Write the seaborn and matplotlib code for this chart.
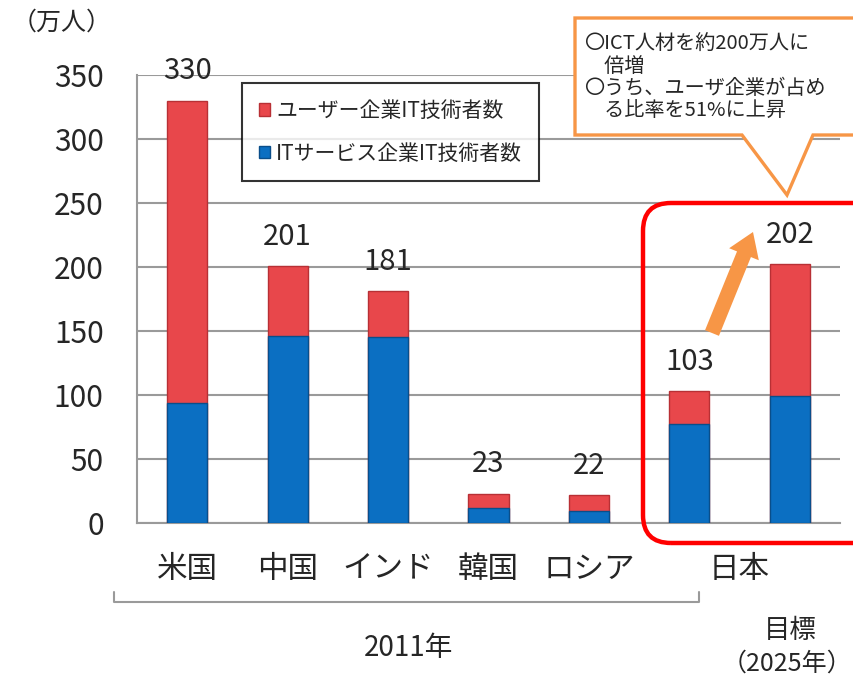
import matplotlib
matplotlib.use("Agg")
import matplotlib.pyplot as plt
import matplotlib.patches as mpatches
import matplotlib.lines as mlines
from matplotlib.transforms import IdentityTransform, blended_transform_factory
import seaborn as sns
import pandas as pd

# ---- data ----
categories = ["米国", "中国", "インド", "韓国", "ロシア", "日本2011", "日本2025"]
it_service = [94, 146, 145, 12, 9, 77, 99]      # ITサービス企業IT技術者数
user_corp = [236, 55, 36, 11, 13, 26, 103]      # ユーザー企業IT技術者数
totals = [330, 201, 181, 23, 22, 103, 202]
cat_labels = ["米国", "中国", "インド", "韓国", "ロシア", "日本"]
yticks = [0, 50, 100, 150, 200, 250, 300, 350]
legend_labels = ["ユーザー企業IT技術者数", "ITサービス企業IT技術者数"]
callout_lines = ["〇ICT人材を約200万人に", "　倍増", "〇うち、ユーザ企業が占め", "　る比率を51%に上昇"]

W, H = 854, 681
sns.set_style("white")
plt.rcParams["font.family"] = ["Noto Sans CJK JP", "DejaVu Sans"]

RED = "#E8474B"
BLUE = "#0B6FC2"
GRID = "#9A9A9A"
ORANGE = "#F79646"

def fx(x):
    return x / W

def fy(y):
    return 1 - y / H

fig = plt.figure(figsize=(W / 100, H / 100), dpi=100)
ax = fig.add_axes([fx(137), fy(523), 703 / W, 448 / H])

df = pd.DataFrame({"cat": categories, "total": totals, "service": it_service, "user": user_corp})

sns.barplot(data=df, x="cat", y="total", order=categories, color=RED, width=0.4,
            saturation=1, ax=ax, edgecolor="#B83035", linewidth=1.0, zorder=3)
sns.barplot(data=df, x="cat", y="service", order=categories, color=BLUE, width=0.4,
            saturation=1, ax=ax, edgecolor="#0A4E8A", linewidth=1.0, zorder=4)

ax.set_xlim(-0.5, len(categories) - 0.5)
ax.set_ylim(0, 350)
ax.set_yticks(yticks)
ax.set_yticklabels([str(v) for v in yticks], fontsize=21.5)
ax.set_xlabel("")
ax.set_ylabel("")
ax.grid(axis="y", color=GRID, linewidth=1.5, zorder=0)
ax.set_axisbelow(True)

for s in ["top", "right"]:
    ax.spines[s].set_visible(False)
for s in ["left", "bottom"]:
    ax.spines[s].set_color(GRID)
    ax.spines[s].set_linewidth(1.5)

ax.tick_params(axis="y", direction="out", length=7, width=1.5, color=GRID, pad=17)
ax.set_xticks([i + 0.5 for i in range(-1, len(categories))])
ax.set_xticklabels([])
ax.tick_params(axis="x", direction="out", length=7, width=1.5, color=GRID)

# total labels
for i, t in enumerate(totals):
    ax.annotate(str(t), (i, t), xytext=(0, 21), textcoords="offset points",
                ha="center", va="center", fontsize=21, zorder=6)

# category labels
label_x = [0, 1, 2, 3, 4, 5.5]
btf = blended_transform_factory(ax.transData, fig.transFigure)
for lx, lab in zip(label_x, cat_labels):
    ax.text(lx, fy(569), lab, transform=btf, ha="center", va="center", fontsize=22)

# legend
handles = [mpatches.Patch(facecolor=RED, edgecolor="#B83035"),
           mpatches.Patch(facecolor=BLUE, edgecolor="#0A4E8A")]
leg = ax.legend(handles, legend_labels, loc="upper left",
                bbox_to_anchor=(fx(242), fy(83)), bbox_transform=fig.transFigure,
                borderaxespad=0, fontsize=15, frameon=True, fancybox=False,
                handlelength=0.55, handleheight=0.55, handletextpad=0.3,
                labelspacing=1.0, borderpad=0.8)
leg.get_frame().set_edgecolor("black")
leg.get_frame().set_linewidth(1.5)
leg.set_zorder(7)

# y unit label
fig.text(fx(62), fy(23), "（万人）", ha="center", va="center", fontsize=18)

# bracket and group labels
br = mlines.Line2D([fx(114), fx(114), fx(699), fx(699)], [fy(592), fy(602), fy(602), fy(592)],
                   transform=fig.transFigure, color=GRID, linewidth=1.5)
fig.add_artist(br)
fig.text(fx(409), fy(648), "2011年", ha="center", va="center", fontsize=20)
fig.text(fx(790), fy(630), "目標", ha="center", va="center", fontsize=19)
fig.text(fx(787), fy(664), "（2025年）", ha="center", va="center", fontsize=18)

# red rounded box (pixel coords)
box = mpatches.FancyBboxPatch((643, H - 543), 260, 340,
                              boxstyle="round,pad=0,rounding_size=28",
                              transform=IdentityTransform(), facecolor="none",
                              edgecolor="#FF0000", linewidth=3.2, zorder=8)
fig.add_artist(box)

# callout
pts = [(575, 18), (870, 18), (870, 135), (813, 135), (787, 195), (742, 135), (575, 135)]
poly = mpatches.Polygon([(x, H - y) for x, y in pts], closed=True, transform=IdentityTransform(),
                        facecolor="white", edgecolor=ORANGE, linewidth=2.4, zorder=9)
fig.add_artist(poly)
for k, line in enumerate(callout_lines):
    fig.text(fx(584), fy(44 + 22.5 * k), line, ha="left", va="center", fontsize=14.5, zorder=10)

# orange arrow
arr = mpatches.FancyArrow(712, H - 333, 41, 101, width=15, head_width=32, head_length=24,
                          length_includes_head=True, transform=IdentityTransform(),
                          facecolor=ORANGE, edgecolor="none", zorder=9)
fig.add_artist(arr)

fig.savefig("out.png", dpi=100)
